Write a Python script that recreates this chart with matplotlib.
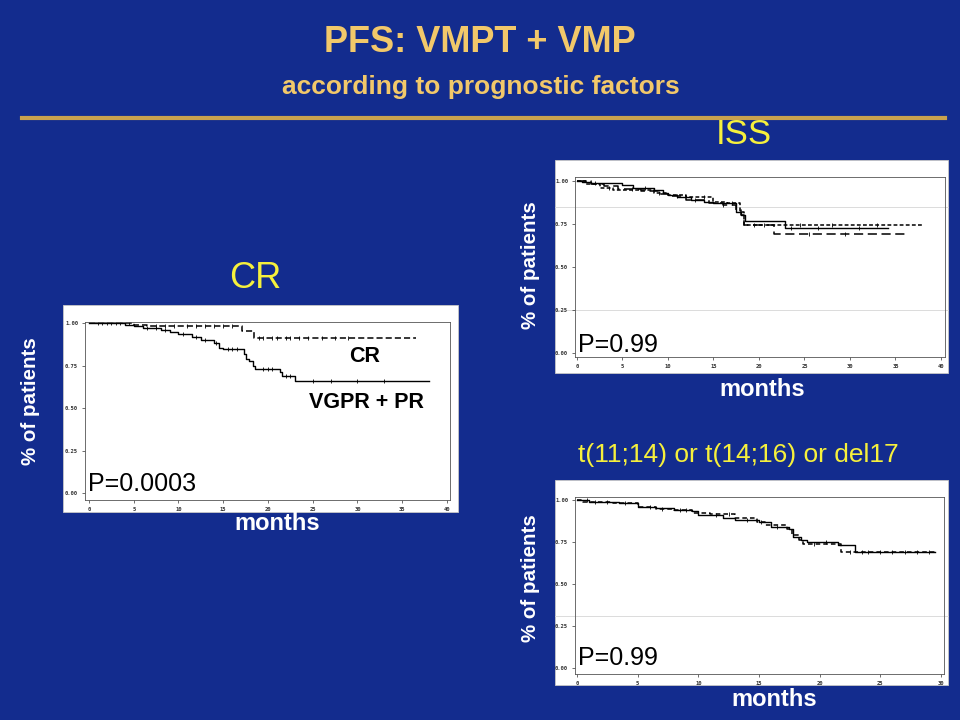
import numpy as np
import matplotlib
matplotlib.use('Agg')
import matplotlib.pyplot as plt
from matplotlib.patches import Rectangle
from matplotlib.lines import Line2D

# ---- data ----
# response: CR vs VGPR + PR
cr_t = [0, 5.0, 6.5, 17.1, 18.4, 36.6]
cr_s = [1.0, 0.99, 0.98, 0.955, 0.91, 0.91]
cr_cens = [1.5, 2.5, 3.5, 4.5, 7.5, 8.5, 9.5, 11, 12, 13, 14, 15, 16, 19, 19.5,
           20.5, 21, 22, 22.5, 23.5, 24.5, 26, 27.5, 29]

vg_t = [0, 4.0, 5.0, 6.0, 8.0, 9.0, 10.0, 11.5, 12.5, 14.0, 14.5, 15.0, 17.3,
        17.6, 17.9, 18.3, 18.6, 21.3, 21.6, 23.0, 38.0]
vg_s = [1.0, 0.99, 0.98, 0.97, 0.96, 0.95, 0.935, 0.915, 0.90, 0.88, 0.855,
        0.845, 0.82, 0.79, 0.775, 0.745, 0.73, 0.71, 0.69, 0.66, 0.66]
vg_cens = [1, 2, 3, 6.5, 7.5, 8.5, 10.5, 12, 13, 14.2, 15.5, 16, 16.5, 19.5,
           20, 20.5, 22, 22.5, 25, 27, 30, 33]

# ISS I / II / III
iss1_t = [0, 0.5, 1.5, 4.9, 6.2, 8.5, 9.5, 10, 11, 12.5, 14, 15, 17.5, 18,
          18.5, 22.9, 34.2]
iss1_s = [1, 0.995, 0.99, 0.975, 0.96, 0.945, 0.93, 0.92, 0.905, 0.89, 0.88,
          0.87, 0.82, 0.80, 0.77, 0.725, 0.725]
iss2_t = [0, 1, 2.5, 4, 8.5, 10, 12, 15, 16.5, 17.9, 18.4, 38]
iss2_s = [1, 0.98, 0.96, 0.945, 0.93, 0.92, 0.905, 0.88, 0.87, 0.82, 0.745,
          0.745]
iss3_t = [0, 1.5, 3, 4.5, 7, 9, 10, 12, 14.5, 16, 17.5, 18, 18.4, 21.7, 36.3]
iss3_s = [1, 0.985, 0.97, 0.955, 0.94, 0.925, 0.91, 0.89, 0.87, 0.86, 0.83,
          0.80, 0.745, 0.69, 0.69]
iss_cens = [2, 3.5, 6, 7.5, 9, 11, 13, 14, 16, 17, 19.5, 20.5, 23.5, 24.5,
            25.5, 26.5, 28, 29.5, 31, 33]

# t(11;14) or t(14;16) or del17
cyt1_t = [0, 1, 3.5, 5, 6.5, 8, 9.5, 10, 12, 13, 15, 16, 17.5, 17.8, 18.5,
          19, 21.5, 22.9, 29.5]
cyt1_s = [1, 0.99, 0.98, 0.96, 0.95, 0.94, 0.935, 0.91, 0.89, 0.88, 0.87,
          0.84, 0.83, 0.78, 0.76, 0.75, 0.73, 0.69, 0.69]
cyt2_t = [0, 0.5, 3, 5, 6.5, 8, 9.5, 11, 13, 14.8, 15.5, 17.3, 17.7, 18.3,
          18.6, 21.8, 29.5]
cyt2_s = [1, 0.99, 0.98, 0.96, 0.945, 0.94, 0.92, 0.915, 0.89, 0.87, 0.85,
          0.83, 0.79, 0.76, 0.74, 0.69, 0.69]
cyt_cens = [0.8, 1.5, 2.5, 4, 6, 7, 8.5, 9, 11.5, 12.5, 14, 15.2, 16.5, 19.5,
            20.5, 22.5, 23.5, 24, 25, 26, 27, 28, 29]

bg = '#132c8e'
gold = '#f2c86a'
yellow = '#f6f03c'

W, H = 960, 720
fig = plt.figure(figsize=(9.6, 7.2), dpi=100, facecolor=bg)


def px(x, y):
    # pixel (from top-left) -> figure fraction
    return x / W, 1 - y / H


def ftext(x, y, s, **kw):
    fx, fy = px(x, y)
    fig.text(fx, fy, s, ha='center', va='center', zorder=10, **kw)


def white_box(x0, y0, x1, y1):
    fx0, fy1 = px(x0, y1)
    fig.patches.append(Rectangle((fx0, fy1), (x1 - x0) / W, (y1 - y0) / H,
                                 transform=fig.transFigure, facecolor='white',
                                 edgecolor='#c8c8c8', lw=0.6, zorder=0))


def gray_rule(x0, x1, y):
    fig.lines.append(Line2D([x0 / W, x1 / W], [1 - y / H, 1 - y / H],
                            transform=fig.transFigure, color='#d6d6d6', lw=0.6,
                            zorder=1))


def km_axes(x0, y0, x1, y1, xlim, ylim, xmax):
    fx0, fy1 = px(x0, y1)
    ax = fig.add_axes([fx0, fy1, (x1 - x0) / W, (y1 - y0) / H])
    ax.set_zorder(2)
    ax.patch.set_alpha(0)
    ax.set_xlim(*xlim)
    ax.set_ylim(*ylim)
    ax.set_xticks(np.arange(0, xmax + 1, 5))
    ax.set_yticks([0, 0.25, 0.5, 0.75, 1.0])
    ax.set_yticklabels(['0.00', '0.25', '0.50', '0.75', '1.00'])
    ax.tick_params(labelsize=4, length=2, width=0.5, pad=3, colors='#333333')
    for lab in ax.get_xticklabels() + ax.get_yticklabels():
        lab.set_family('DejaVu Sans Mono')
        lab.set_weight('bold')
    for sp in ax.spines.values():
        sp.set_linewidth(0.6)
        sp.set_color('#555555')
    return ax


def step(ax, t, s, cens, dashes=None, lw=1.0):
    line, = ax.plot(t, s, drawstyle='steps-post', color='black', lw=lw)
    if dashes:
        line.set_dashes(dashes)
    t_arr = np.array(t)
    s_arr = np.array(s)
    c = np.array([x for x in cens if x <= t_arr[-1]])
    idx = np.searchsorted(t_arr, c, side='right') - 1
    ax.plot(c, s_arr[idx], ls='none', marker='|', ms=3, mew=0.6, color='black')


# ---- header ----
ftext(480, 42, 'PFS: VMPT + VMP', fontsize=26, weight='bold', color=gold,
      family='Liberation Sans')
ftext(481, 87, 'according to prognostic factors', fontsize=19, weight='bold',
      color=gold, family='Liberation Sans')
fig.lines.append(Line2D([22 / W, 945 / W], [1 - 118 / H, 1 - 118 / H],
                        transform=fig.transFigure, color='#c9a24e', lw=3))
ftext(744, 135, 'ISS', fontsize=25, color=yellow, family='Liberation Sans')

# ---- panel 1: response ----
white_box(63, 305, 458, 512)
ax1 = km_axes(85, 322, 450, 500, (-0.45, 40.35), (-0.041, 1.006), 40)
step(ax1, cr_t, cr_s, cr_cens, dashes=(4, 2), lw=1.1)
step(ax1, vg_t, vg_s, vg_cens, lw=1.0)
ftext(255, 278, 'CR', fontsize=26, color=yellow, family='Liberation Sans')
ftext(30, 401, '% of patients', fontsize=14.8, weight='bold', color='white',
      rotation=90, family='Liberation Sans')
ftext(277, 523, 'months', fontsize=17, weight='bold', color='white',
      family='Liberation Sans')
ftext(142, 484, 'P=0.0003', fontsize=18, color='black', family='Liberation Sans')
ftext(365, 357, 'CR', fontsize=15.5, weight='bold', color='black',
      family='Liberation Sans')
ftext(366, 402, 'VGPR + PR', fontsize=15.5, weight='bold', color='black',
      family='Liberation Sans')

# ---- panel 2: ISS ----
white_box(555, 160, 948, 373)
gray_rule(555, 948, 207)
gray_rule(555, 948, 310)
ax2 = km_axes(575, 177, 945, 357, (-0.22, 40.45), (-0.023, 1.023), 40)
step(ax2, iss1_t, iss1_s, iss_cens[::3], lw=1.0)
step(ax2, iss2_t, iss2_s, iss_cens[1::3], dashes=(2.5, 1.5), lw=1.1)
step(ax2, iss3_t, iss3_s, iss_cens[2::3], dashes=(6, 3), lw=1.1)
ftext(530, 265, '% of patients', fontsize=14.8, weight='bold', color='white',
      rotation=90, family='Liberation Sans')
ftext(762, 390, 'months', fontsize=17, weight='bold', color='white',
      family='Liberation Sans')
ftext(618, 345, 'P=0.99', fontsize=18, color='black', family='Liberation Sans')

# ---- panel 3: cytogenetics ----
ftext(738, 455, 't(11;14) or t(14;16) or del17', fontsize=19, color=yellow,
      family='Liberation Sans')
white_box(555, 480, 948, 685)
gray_rule(555, 948, 616)
ax3 = km_axes(575, 497, 944, 674, (-0.16, 30.25), (-0.036, 1.018), 30)
step(ax3, cyt1_t, cyt1_s, cyt_cens[::2], lw=1.0)
step(ax3, cyt2_t, cyt2_s, cyt_cens[1::2], dashes=(3, 2), lw=1.1)
ftext(530, 578, '% of patients', fontsize=14.8, weight='bold', color='white',
      rotation=90, family='Liberation Sans')
ftext(774, 700, 'months', fontsize=17, weight='bold', color='white',
      family='Liberation Sans')
ftext(618, 658, 'P=0.99', fontsize=18, color='black', family='Liberation Sans')

fig.savefig('out.png', dpi=100, facecolor=bg)
